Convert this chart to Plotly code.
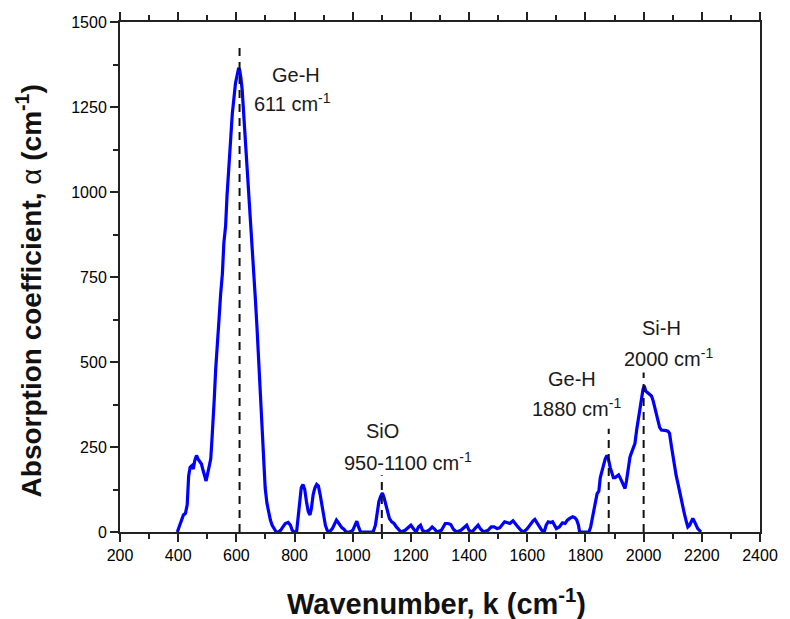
import plotly.graph_objects as go

# FTIR absorption spectrum of the film (wavenumber in cm^-1, alpha in cm^-1)
wavenumber = [
    397, 405, 412, 418, 425, 431, 436, 441, 447, 452, 457, 463, 468, 474, 480, 486, 492, 496, 501, 507,
    512, 516, 520, 524, 529, 534, 540, 546, 552, 557, 563, 568, 575, 580, 586, 592, 597, 603, 608, 611,
    615, 620, 625, 631, 637, 643, 648, 654, 660, 665, 671, 677, 682, 688, 694, 699, 705, 711, 717, 723,
    730, 737, 745, 752, 760, 768, 778, 786, 792, 800, 807, 812, 817, 823, 829, 835, 841, 847, 853, 858,
    864, 870, 876, 882, 888, 894, 900, 906, 912, 920, 930, 938, 944, 950, 957, 963, 970, 977, 990, 1000,
    1008, 1014, 1020, 1027, 1040, 1055, 1070, 1078, 1084, 1090, 1096, 1102, 1108, 1114, 1120, 1126, 1134, 1142, 1150, 1158,
    1166, 1180, 1192, 1200, 1210, 1218, 1226, 1233, 1240, 1250, 1262, 1273, 1282, 1290, 1305, 1318, 1328, 1337, 1346, 1357,
    1372, 1385, 1392, 1400, 1410, 1420, 1431, 1440, 1450, 1465, 1476, 1486, 1496, 1505, 1515, 1522, 1530, 1540, 1551, 1560,
    1568, 1578, 1588, 1600, 1613, 1620, 1626, 1634, 1641, 1650, 1658, 1665, 1672, 1680, 1687, 1693, 1700, 1710, 1721, 1730,
    1738, 1746, 1756, 1764, 1770, 1776, 1780, 1790, 1800, 1812, 1818, 1823, 1829, 1834, 1840, 1846, 1851, 1857, 1862, 1868,
    1874, 1879, 1885, 1890, 1896, 1902, 1908, 1914, 1919, 1925, 1931, 1936, 1941, 1947, 1953, 1959, 1964, 1970, 1976, 1982,
    1988, 1993, 1998, 2002, 2007, 2013, 2020, 2027, 2033, 2038, 2044, 2050, 2055, 2061, 2067, 2072, 2078, 2084, 2089, 2095,
    2101, 2107, 2112, 2118, 2124, 2129, 2135, 2141, 2147, 2152, 2158, 2163, 2169, 2175, 2180, 2186, 2192, 2197,
]
alpha = [
    0, 20, 35, 50, 55, 80, 165, 190, 195, 185, 210, 225, 215, 205, 200, 180, 160, 150, 170, 195,
    215, 270, 320, 390, 480, 560, 620, 700, 760, 850, 900, 990, 1070, 1150, 1230, 1290, 1320, 1345, 1365, 1360,
    1340, 1300, 1235, 1160, 1075, 1000, 905, 850, 760, 690, 600, 500, 400, 290, 200, 130, 85, 55, 35, 20,
    10, 0, 0, 5, 15, 25, 28, 20, 5, 0, 0, 40, 100, 130, 140, 125, 90, 60, 50, 70,
    110, 130, 140, 135, 110, 80, 45, 20, 5, 0, 10, 25, 35, 28, 18, 12, 8, 0, 0, 5,
    20, 32, 15, 0, 0, 0, 0, 20, 60, 90, 105, 115, 100, 80, 55, 40, 30, 25, 15, 8,
    0, 5, 15, 20, 8, 0, 15, 20, 5, 0, 5, 15, 8, 0, 5, 25, 25, 22, 8, 0,
    5, 15, 20, 5, 0, 10, 20, 8, 0, 5, 15, 15, 10, 12, 25, 30, 28, 25, 33, 22,
    15, 5, 0, 10, 27, 33, 37, 25, 15, 5, 0, 20, 30, 28, 30, 22, 10, 15, 27, 25,
    35, 40, 45, 42, 35, 20, 0, 0, 0, 0, 15, 35, 65, 80, 113, 120, 160, 180, 200, 215,
    225, 215, 190, 175, 160, 160, 165, 168, 160, 150, 135, 128, 150, 195, 220, 235, 245, 260, 300, 337,
    370, 396, 420, 430, 415, 410, 405, 400, 385, 366, 340, 320, 308, 300, 300, 300, 298, 296, 290, 255,
    220, 190, 165, 142, 115, 95, 74, 50, 30, 15, 20, 30, 40, 30, 20, 10, 5, 0,
]

# Band assignments: marker position, top of the dashed guide, and label text
band_positions = [611, 1100, 1880, 2000]
band_line_tops = [1440, 167, 304, 469]
band_names = ["Ge-H", "SiO", "Ge-H", "Si-H"]
band_values = ["611 cm<sup>-1</sup>", "950-1100 cm<sup>-1</sup>",
               "1880 cm<sup>-1</sup>", "2000 cm<sup>-1</sup>"]
name_anchor_x = [806, 1102, 1753, 2062]
name_anchor_y = [1345, 298, 450, 599]
value_anchor_x = [792, 1191, 1770, 2086]
value_anchor_y = [1263, 208, 365, 512]

x_ticks = list(range(200, 2401, 200))
y_ticks = [0, 250, 500, 750, 1000, 1250, 1500]

FONT = "Liberation Sans, Arial, sans-serif"
INK = "#1a1a1a"

fig = go.Figure()
fig.add_trace(go.Scatter(
    x=wavenumber, y=alpha, mode="lines",
    line=dict(color="#0000ff", width=3.2),
    showlegend=False, hoverinfo="skip",
))

for pos, top in zip(band_positions, band_line_tops):
    fig.add_shape(type="line", xref="x", yref="y",
                  x0=pos, x1=pos, y0=0, y1=top,
                  line=dict(color="#111111", width=2, dash="8px,6px"),
                  layer="above")

annotations = []
for name, nx, ny in zip(band_names, name_anchor_x, name_anchor_y):
    annotations.append(dict(x=nx, y=ny, xref="x", yref="y", text=name,
                            showarrow=False, xanchor="center", yanchor="middle",
                            font=dict(family=FONT, size=20, color=INK)))
for val, vx, vy in zip(band_values, value_anchor_x, value_anchor_y):
    annotations.append(dict(x=vx, y=vy, xref="x", yref="y", text=val,
                            showarrow=False, xanchor="center", yanchor="middle",
                            font=dict(family=FONT, size=20, color=INK)))

# Axis titles
annotations.append(dict(x=0.495, y=-0.138, xref="paper", yref="paper",
                        text="<b>Wavenumber, k (cm<sup>-1</sup>)</b>",
                        showarrow=False, xanchor="center", yanchor="middle",
                        font=dict(family=FONT, size=29, color="#111111")))
annotations.append(dict(x=-0.142, y=0.472, xref="paper", yref="paper",
                        text="<b>Absorption coefficient, </b>α<b> (cm<sup>-1</sup>)</b>",
                        textangle=-90, showarrow=False,
                        xanchor="center", yanchor="middle",
                        font=dict(family=FONT, size=28, color="#111111")))

axis_common = dict(
    showgrid=False, zeroline=False,
    showline=True, linecolor="#222222", linewidth=2,
    ticks="outside", ticklen=8, tickwidth=2, tickcolor="#222222",
    tickfont=dict(family=FONT, size=16, color="#000000"),
)

fig.update_xaxes(
    range=[200, 2400], tickvals=x_ticks, ticktext=[str(v) for v in x_ticks],
    mirror="ticks",
    minor=dict(dtick=100, tick0=200, ticks="outside", ticklen=5,
               tickwidth=2, tickcolor="#222222"),
    **axis_common,
)
fig.update_yaxes(
    range=[0, 1500], tickvals=y_ticks, ticktext=[str(v) for v in y_ticks],
    mirror=True,
    minor=dict(dtick=125, tick0=0, ticks="outside", ticklen=5,
               tickwidth=2, tickcolor="#222222"),
    **axis_common,
)

fig.update_layout(
    width=790, height=619,
    margin=dict(l=120, r=20, t=19, b=87),
    plot_bgcolor="white", paper_bgcolor="white",
    annotations=annotations,
)

fig.write_html("out.html")
